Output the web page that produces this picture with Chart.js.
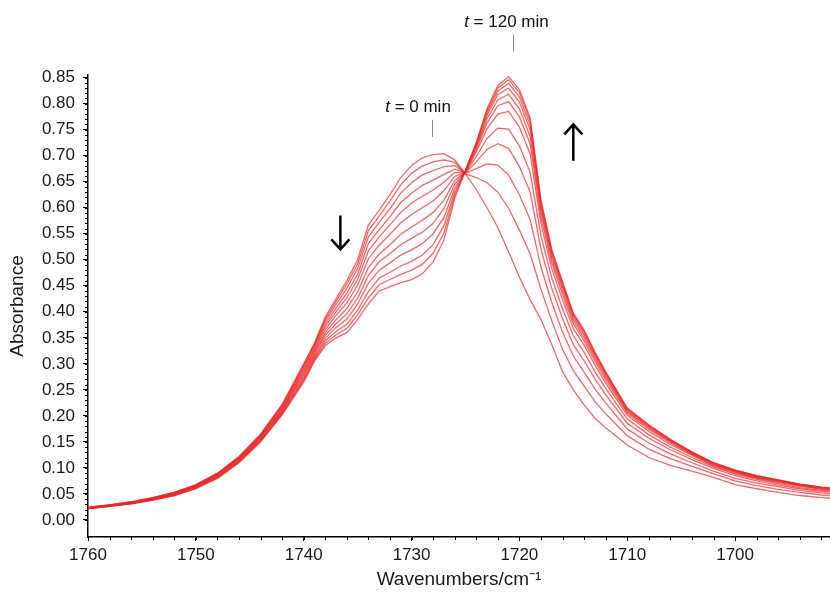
<!DOCTYPE html>
<html>
<head>
<meta charset="utf-8">
<script src="https://cdn.jsdelivr.net/npm/chart.js@4.4.1/dist/chart.umd.min.js"></script>
<style>
  html, body { margin: 0; padding: 0; background: #fff; }
</style>
</head>
<body>
<canvas id="myChart" width="830" height="594"></canvas>
<script>
// wavenumbers (cm-1) shared by all spectra
const wavenumbers = [1760, 1758, 1756, 1754, 1752, 1750, 1748, 1746, 1744, 1742,
  1740, 1739, 1738, 1737, 1736, 1735, 1734, 1733, 1732, 1731,
  1730, 1729, 1728, 1727, 1726, 1725, 1724, 1723, 1722, 1721,
  1720, 1719, 1718, 1717, 1716, 1715, 1714, 1713, 1712, 1710,
  1708, 1706, 1704, 1702, 1700, 1698, 1696, 1694, 1692, 1690];

// absorbance, t = 0 min first ... t = 120 min last
const spec00 = [.024,.029,.035,.043,.053,.068,.090,.122,.165,.222,.300,.340,.390,.425,.460,.500,.567,.595,.625,.658,.681,.696,.702,.704,.692,.665,.635,.600,.562,.515,.467,.423,.385,.337,.285,.250,.221,.196,.177,.144,.120,.105,.094,.082,.068,.060,.053,.047,.043,.040];
const spec01 = [.024,.029,.035,.043,.053,.067,.089,.121,.164,.221,.298,.338,.386,.420,.453,.492,.556,.584,.613,.644,.666,.680,.688,.692,.687,.665,.658,.648,.630,.599,.557,.511,.443,.383,.328,.287,.257,.228,.204,.162,.136,.118,.103,.089,.075,.066,.059,.053,.048,.045];
const spec02 = [.024,.029,.034,.042,.052,.067,.089,.120,.163,.219,.295,.335,.382,.414,.445,.483,.544,.572,.598,.628,.648,.663,.671,.679,.681,.666,.675,.684,.682,.663,.625,.577,.486,.418,.361,.315,.284,.252,.225,.175,.148,.127,.110,.094,.080,.071,.064,.057,.052,.049];
const spec03 = [.024,.028,.034,.042,.052,.066,.088,.119,.161,.217,.292,.332,.377,.407,.436,.472,.531,.558,.583,.610,.628,.643,.653,.664,.674,.667,.688,.712,.723,.714,.679,.630,.521,.445,.387,.337,.306,.271,.241,.186,.157,.135,.116,.099,.085,.075,.067,.060,.055,.052];
const spec04 = [.023,.028,.034,.041,.051,.065,.087,.118,.160,.215,.288,.328,.372,.400,.427,.462,.517,.544,.567,.591,.609,.622,.634,.649,.668,.667,.698,.733,.753,.751,.719,.668,.546,.465,.406,.354,.322,.285,.253,.194,.164,.140,.120,.102,.088,.078,.070,.062,.057,.054];
const spec05 = [.023,.028,.033,.041,.050,.065,.086,.117,.159,.213,.285,.325,.366,.393,.417,.451,.502,.528,.549,.571,.587,.600,.613,.633,.660,.668,.707,.752,.780,.785,.755,.703,.569,.483,.423,.368,.336,.298,.263,.201,.170,.145,.124,.104,.090,.080,.072,.065,.059,.056];
const spec06 = [.023,.027,.033,.040,.050,.064,.085,.116,.157,.211,.281,.321,.360,.385,.406,.438,.485,.511,.529,.549,.563,.576,.591,.614,.652,.669,.712,.763,.796,.804,.775,.723,.582,.494,.433,.377,.344,.305,.269,.205,.174,.148,.126,.106,.092,.081,.074,.066,.060,.057];
const spec07 = [.023,.027,.032,.040,.049,.063,.084,.114,.155,.209,.278,.318,.355,.377,.396,.426,.470,.496,.512,.529,.541,.553,.570,.598,.645,.669,.716,.771,.807,.818,.790,.737,.592,.501,.440,.383,.350,.310,.274,.208,.177,.150,.127,.107,.093,.082,.075,.067,.061,.058];
const spec08 = [.023,.027,.032,.039,.049,.062,.083,.113,.154,.207,.274,.314,.349,.370,.386,.415,.455,.480,.494,.509,.519,.531,.550,.581,.637,.670,.719,.778,.817,.830,.803,.750,.600,.508,.447,.388,.355,.315,.278,.210,.179,.152,.129,.108,.094,.083,.075,.068,.062,.059];
const spec09 = [.022,.026,.032,.039,.048,.061,.082,.112,.152,.205,.271,.311,.344,.362,.376,.403,.439,.465,.476,.488,.497,.509,.529,.565,.630,.671,.722,.783,.824,.839,.813,.759,.606,.513,.451,.392,.359,.318,.281,.212,.181,.153,.130,.109,.095,.084,.076,.068,.062,.059];
const spec10 = [.022,.026,.031,.038,.047,.061,.081,.111,.151,.204,.268,.308,.339,.356,.368,.394,.427,.452,.462,.472,.480,.491,.513,.551,.624,.671,.724,.787,.830,.846,.821,.767,.611,.517,.455,.395,.363,.321,.283,.214,.182,.154,.130,.110,.096,.085,.077,.069,.063,.060];
const spec11 = [.022,.026,.031,.038,.047,.060,.080,.110,.150,.202,.265,.305,.335,.350,.360,.385,.415,.440,.448,.456,.462,.473,.496,.538,.618,.672,.725,.790,.835,.852,.827,.773,.615,.520,.458,.398,.365,.323,.285,.215,.183,.155,.131,.110,.096,.085,.077,.069,.063,.060];

const spectra = [spec00, spec01, spec02, spec03, spec04, spec05, spec06, spec07, spec08, spec09, spec10, spec11];

const xTicks = [1760, 1750, 1740, 1730, 1720, 1710, 1700];
const yTicks = [0, 0.05, 0.10, 0.15, 0.20, 0.25, 0.30, 0.35, 0.40, 0.45, 0.50, 0.55, 0.60, 0.65, 0.70, 0.75, 0.80, 0.85];

const FONT = '"Liberation Sans", Arial, sans-serif';

var ctx = document.getElementById('myChart');

// minor ticks + time labels and arrows
const extras = {
  id: 'extras',
  afterDraw(chart) {
    const c = chart.ctx;
    const xs = chart.scales.x, ys = chart.scales.y;
    const left = chart.chartArea.left, bottom = chart.chartArea.bottom;

    c.save();
    c.strokeStyle = '#000';
    c.lineWidth = 1;
    c.beginPath();
    for (let v = 0; v <= 85; v++) {
      const py = Math.round(ys.getPixelForValue(v / 100)) + 0.5;
      c.moveTo(left - 3, py); c.lineTo(left, py);
    }
    for (let w = 1692; w <= 1760; w += 2) {
      const px = Math.round(xs.getPixelForValue(w)) + 0.5;
      c.moveTo(px, bottom); c.lineTo(px, bottom + 3);
    }
    c.stroke();

    // marker lines
    c.strokeStyle = '#888';
    c.lineWidth = 1;
    c.beginPath();
    let px = Math.round(xs.getPixelForValue(1728.1)) + 0.5;
    c.moveTo(px, ys.getPixelForValue(0.769)); c.lineTo(px, ys.getPixelForValue(0.736));
    px = Math.round(xs.getPixelForValue(1720.6)) + 0.5;
    c.moveTo(px, ys.getPixelForValue(0.933)); c.lineTo(px, ys.getPixelForValue(0.900));
    c.stroke();

    // labels with italic t
    const label = (cx, baseA, rest) => {
      const by = ys.getPixelForValue(baseA);
      c.font = 'italic 17px ' + FONT;
      const w1 = c.measureText('t').width;
      c.font = '17px ' + FONT;
      const w2 = c.measureText(rest).width;
      const x0 = cx - (w1 + w2) / 2;
      c.fillStyle = '#111';
      c.textBaseline = 'alphabetic';
      c.textAlign = 'left';
      c.font = 'italic 17px ' + FONT;
      c.fillText('t', x0, by);
      c.font = '17px ' + FONT;
      c.fillText(rest, x0 + w1, by);
    };
    label(xs.getPixelForValue(1729.4), 0.783, ' = 0 min');
    label(xs.getPixelForValue(1721.2), 0.948, ' = 120 min');

    // arrows
    const arrow = (w, a1, a2) => {
      const ax = xs.getPixelForValue(w);
      const y1 = ys.getPixelForValue(a1), y2 = ys.getPixelForValue(a2);
      const dir = y2 > y1 ? 1 : -1;
      c.strokeStyle = '#000';
      c.lineWidth = 2.5;
      c.beginPath();
      c.moveTo(ax, y1); c.lineTo(ax, y2);
      c.moveTo(ax - 9, y2 - dir * 10); c.lineTo(ax, y2); c.lineTo(ax + 9, y2 - dir * 10);
      c.stroke();
    };
    arrow(1736.6, 0.585, 0.52);
    arrow(1715.0, 0.69, 0.76);
    c.restore();
  }
};

const datasets = spectra.map((s, i) => ({
  label: 'spectrum ' + i,
  data: s.map((a, j) => ({ x: wavenumbers[j], y: a })),
  borderColor: 'rgba(234, 40, 40, 0.7)',
  borderWidth: 1.3,
  pointRadius: 0,
  tension: 0,
  fill: false
}));

var myChart = new Chart(ctx, {
  type: 'line',
  data: { datasets: datasets },
  options: {
    responsive: false,
    animation: false,
    layout: { padding: { top: 75, right: 0, left: 0, bottom: 0 } },
    plugins: {
      legend: { display: false },
      tooltip: { enabled: false }
    },
    scales: {
      x: {
        type: 'linear',
        reverse: true,
        min: 1691.2,
        max: 1760,
        afterBuildTicks: (scale) => { scale.ticks = xTicks.map(v => ({ value: v })); },
        afterFit: (scale) => { scale.height = 57; },
        border: { display: true, color: '#000', width: 1.5 },
        grid: { drawOnChartArea: false, drawTicks: true, tickLength: 4, color: '#000' },
        ticks: {
          padding: 4,
          color: '#1a1a1a',
          font: { family: FONT, size: 17 },
          callback: (v) => String(v)
        },
        title: {
          display: true,
          text: 'Wavenumbers/cm\u207B\u00B9',
          color: '#1a1a1a',
          font: { family: FONT, size: 19 },
          padding: { top: 0, bottom: 3 }
        }
      },
      y: {
        type: 'linear',
        min: -0.0327,
        max: 0.855,
        afterBuildTicks: (scale) => { scale.ticks = yTicks.map(v => ({ value: v })); },
        afterFit: (scale) => { scale.width = 88; },
        border: { display: true, color: '#000', width: 1.5 },
        grid: { drawOnChartArea: false, drawTicks: true, tickLength: 5, color: '#000' },
        ticks: {
          padding: 8,
          color: '#1a1a1a',
          font: { family: FONT, size: 17 },
          callback: (v) => v.toFixed(2)
        },
        title: {
          display: true,
          text: 'Absorbance',
          color: '#1a1a1a',
          font: { family: FONT, size: 19 },
          padding: { top: 6, bottom: 0 }
        }
      }
    }
  },
  plugins: [extras]
});
</script>
</body>
</html>
